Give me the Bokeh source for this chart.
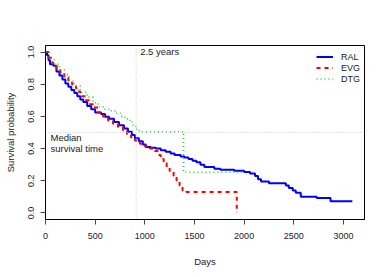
from bokeh.plotting import figure
from bokeh.models import (Range1d, FixedTicker, PrintfTickFormatter, Legend, LegendItem,
                          Span, Label)
from bokeh.embed import file_html
from bokeh.resources import INLINE

# ---- data ----
ral_days = [0, 15, 30, 45, 80, 110, 140, 170, 200, 230, 260, 290, 320, 350, 380, 420, 460,
            500, 560, 600, 640, 690, 740, 790, 830, 870, 900, 940, 980, 1010, 1060, 1110,
            1160, 1210, 1260, 1300, 1360, 1400, 1440, 1480, 1520, 1560, 1600, 1700, 1760,
            1900, 2000, 2060, 2110, 2140, 2170, 2250, 2420, 2450, 2490, 2520, 2570, 2730,
            2870, 3090]
ral_surv = [1.0, 0.98, 0.95, 0.925, 0.915, 0.88, 0.855, 0.83, 0.805, 0.785, 0.765, 0.745,
            0.725, 0.705, 0.69, 0.665, 0.645, 0.625, 0.615, 0.598, 0.585, 0.565, 0.545,
            0.525, 0.505, 0.485, 0.465, 0.445, 0.425, 0.41, 0.405, 0.40, 0.39, 0.38, 0.37,
            0.36, 0.35, 0.345, 0.335, 0.325, 0.315, 0.30, 0.285, 0.275, 0.268, 0.262, 0.255,
            0.245, 0.23, 0.21, 0.195, 0.185, 0.17, 0.155, 0.14, 0.125, 0.10, 0.093, 0.072,
            0.072]

evg_days = [0, 30, 70, 110, 150, 190, 230, 270, 310, 350, 400, 440, 480, 530, 580, 630, 680,
            730, 780, 820, 860, 900, 950, 1000, 1050, 1100, 1130, 1160, 1190, 1220, 1250,
            1290, 1320, 1350, 1380, 1420, 1926]
evg_surv = [1.0, 0.965, 0.93, 0.9, 0.87, 0.84, 0.81, 0.785, 0.755, 0.725, 0.70, 0.675, 0.655,
            0.625, 0.6, 0.575, 0.555, 0.53, 0.51, 0.49, 0.47, 0.45, 0.43, 0.415, 0.40, 0.385,
            0.36, 0.335, 0.31, 0.285, 0.26, 0.23, 0.20, 0.17, 0.14, 0.13, 0.0]

dtg_days = [0, 40, 90, 140, 190, 240, 290, 350, 420, 480, 530, 580, 640, 700, 760, 800, 850,
            880, 910, 945, 1390, 2010]
dtg_surv = [1.0, 0.96, 0.925, 0.89, 0.86, 0.82, 0.79, 0.75, 0.72, 0.685, 0.66, 0.645, 0.635,
            0.62, 0.60, 0.585, 0.565, 0.545, 0.52, 0.505, 0.253, 0.253]

x_ticks = [0, 500, 1000, 1500, 2000, 2500, 3000]
y_ticks = [0.0, 0.2, 0.4, 0.6, 0.8, 1.0]
series_names = ["RAL", "EVG", "DTG"]
median_level = 0.5
milestone_days = 912.5  # 2.5 years

FONT = "Liberation Sans"

p = figure(width=380, height=269, output_backend="svg", toolbar_location=None,
           x_range=Range1d(0, 3212), y_range=Range1d(-0.041, 1.041),
           min_border_left=45, min_border_top=45, min_border_right=16, min_border_bottom=49)
p.background_fill_color = "white"
p.border_fill_color = "white"
p.outline_line_color = "black"
p.outline_line_width = 1
p.xgrid.visible = False
p.ygrid.visible = False

for ax in (p.xaxis[0], p.yaxis[0]):
    ax.axis_line_color = "black"
    ax.major_tick_line_color = "#444"
    ax.major_tick_in = 0
    ax.major_tick_out = 5
    ax.minor_tick_line_color = None
    ax.major_label_text_font = FONT
    ax.major_label_text_font_size = "9px"
    ax.major_label_text_color = "#222"
    ax.axis_label_text_font = FONT
    ax.axis_label_text_font_size = "9.5px"
    ax.axis_label_text_font_style = "normal"
    ax.axis_label_text_color = "#222"

p.xaxis.ticker = FixedTicker(ticks=x_ticks)
p.yaxis.ticker = FixedTicker(ticks=y_ticks)
p.yaxis.formatter = PrintfTickFormatter(format="%.1f")
p.yaxis.major_label_orientation = "parallel"
p.xaxis.axis_label = "Days"
p.yaxis.axis_label = "Survival probability"
p.xaxis.major_label_standoff = 8
p.xaxis.axis_label_standoff = 14
p.yaxis.major_label_standoff = 6
p.yaxis.axis_label_standoff = 10

# reference lines
p.add_layout(Span(location=median_level, dimension="width", line_color="#c8c8c8",
                  line_dash="1 2", line_width=1))
p.add_layout(Span(location=milestone_days, dimension="height", line_color="#c8c8c8",
                  line_dash="1 2", line_width=1))

r_ral = p.step(ral_days, ral_surv, mode="after", line_color="#0000ff", line_width=2)
r_evg = p.step(evg_days, evg_surv, mode="after", line_color="#ff0000", line_width=2,
               line_dash="4 4")
r_dtg = p.step(dtg_days, dtg_surv, mode="after", line_color="#10dd10", line_width=1.6,
               line_dash="1 3")

p.add_layout(Label(x=milestone_days, y=1.038, x_offset=4, text="2.5 years",
                   text_baseline="top", text_font=FONT, text_font_size="9.5px",
                   text_color="#222"))
p.add_layout(Label(x=50, y=0.468, text="Median", text_baseline="middle",
                   text_font=FONT, text_font_size="9.5px", text_color="#222"))
p.add_layout(Label(x=50, y=0.402, text="survival time", text_baseline="middle",
                   text_font=FONT, text_font_size="9.5px", text_color="#222"))

legend = Legend(items=[LegendItem(label=series_names[0], renderers=[r_ral]),
                       LegendItem(label=series_names[1], renderers=[r_evg]),
                       LegendItem(label=series_names[2], renderers=[r_dtg])],
                location=(271, 135), border_line_color=None, background_fill_alpha=0,
                glyph_width=17, glyph_height=11, label_height=11, spacing=0,
                label_standoff=8, padding=4, margin=0,
                label_text_font=FONT, label_text_font_size="9px", label_text_color="#222")
p.add_layout(legend)

open("out.html", "w").write(file_html(p, INLINE))
